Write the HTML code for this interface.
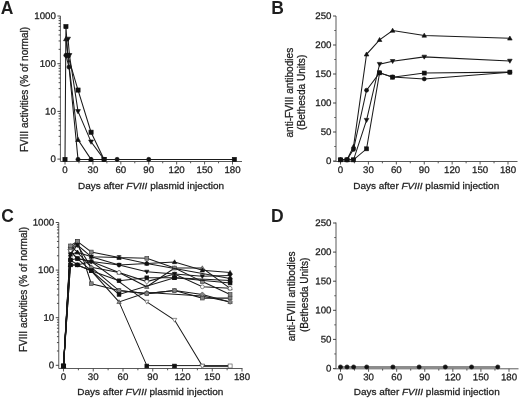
<!DOCTYPE html>
<html><head><meta charset="utf-8"><style>
html,body{margin:0;padding:0;background:#fff;overflow:hidden;width:520px;height:399px;}
svg{display:block;will-change:transform;}
text{font-family:"Liberation Sans",sans-serif;fill:#1e1e1e;stroke:#1e1e1e;stroke-width:0.28px;}
</style></head><body>
<svg width="520" height="399" viewBox="0 0 520 399">
<rect width="520" height="399" fill="#fff"/>
<text x="0.8" y="14.3" font-size="17.5" text-anchor="start" font-weight="bold" style="stroke:none">A</text>
<path d="M60.4 16V161.5" stroke="#5a5a5a" stroke-width="1"/>
<path d="M57.4 16H60.4" stroke="#333" stroke-width="0.9"/>
<text transform="translate(55.9 19) scale(1 0.98) rotate(0.05)" font-size="9.7" text-anchor="end">1000</text>
<path d="M58.6 49.34H60.4" stroke="#333" stroke-width="0.9"/>
<path d="M58.6 40.94H60.4" stroke="#333" stroke-width="0.9"/>
<path d="M58.6 34.98H60.4" stroke="#333" stroke-width="0.9"/>
<path d="M58.6 30.36H60.4" stroke="#333" stroke-width="0.9"/>
<path d="M58.6 26.58H60.4" stroke="#333" stroke-width="0.9"/>
<path d="M58.6 23.39H60.4" stroke="#333" stroke-width="0.9"/>
<path d="M58.6 20.62H60.4" stroke="#333" stroke-width="0.9"/>
<path d="M58.6 18.18H60.4" stroke="#333" stroke-width="0.9"/>
<path d="M57.4 63.7H60.4" stroke="#333" stroke-width="0.9"/>
<text transform="translate(55.9 66.7) scale(1 0.98) rotate(0.05)" font-size="9.7" text-anchor="end">100</text>
<path d="M58.6 97.04H60.4" stroke="#333" stroke-width="0.9"/>
<path d="M58.6 88.64H60.4" stroke="#333" stroke-width="0.9"/>
<path d="M58.6 82.68H60.4" stroke="#333" stroke-width="0.9"/>
<path d="M58.6 78.06H60.4" stroke="#333" stroke-width="0.9"/>
<path d="M58.6 74.28H60.4" stroke="#333" stroke-width="0.9"/>
<path d="M58.6 71.09H60.4" stroke="#333" stroke-width="0.9"/>
<path d="M58.6 68.32H60.4" stroke="#333" stroke-width="0.9"/>
<path d="M58.6 65.88H60.4" stroke="#333" stroke-width="0.9"/>
<path d="M57.4 111.4H60.4" stroke="#333" stroke-width="0.9"/>
<text transform="translate(55.9 114.4) scale(1 0.98) rotate(0.05)" font-size="9.7" text-anchor="end">10</text>
<path d="M58.6 144.74H60.4" stroke="#333" stroke-width="0.9"/>
<path d="M58.6 136.34H60.4" stroke="#333" stroke-width="0.9"/>
<path d="M58.6 130.38H60.4" stroke="#333" stroke-width="0.9"/>
<path d="M58.6 125.76H60.4" stroke="#333" stroke-width="0.9"/>
<path d="M58.6 121.98H60.4" stroke="#333" stroke-width="0.9"/>
<path d="M58.6 118.79H60.4" stroke="#333" stroke-width="0.9"/>
<path d="M58.6 116.02H60.4" stroke="#333" stroke-width="0.9"/>
<path d="M58.6 113.58H60.4" stroke="#333" stroke-width="0.9"/>
<path d="M57.4 159.1H60.4" stroke="#333" stroke-width="0.9"/>
<text transform="translate(55.9 162.1) scale(1 0.98) rotate(0.05)" font-size="9.7" text-anchor="end">0</text>
<path d="M60.4 161.5H242" stroke="#5a5a5a" stroke-width="1"/>
<path d="M65 161.5V164.5" stroke="#444" stroke-width="0.9"/>
<text transform="translate(65 173) scale(1 0.98) rotate(0.05)" font-size="9.7" text-anchor="middle">0</text>
<path d="M78.96 161.5V163.3" stroke="#444" stroke-width="0.9"/>
<path d="M92.92 161.5V164.5" stroke="#444" stroke-width="0.9"/>
<text transform="translate(92.92 173) scale(1 0.98) rotate(0.05)" font-size="9.7" text-anchor="middle">30</text>
<path d="M106.88 161.5V163.3" stroke="#444" stroke-width="0.9"/>
<path d="M120.83 161.5V164.5" stroke="#444" stroke-width="0.9"/>
<text transform="translate(120.83 173) scale(1 0.98) rotate(0.05)" font-size="9.7" text-anchor="middle">60</text>
<path d="M134.79 161.5V163.3" stroke="#444" stroke-width="0.9"/>
<path d="M148.75 161.5V164.5" stroke="#444" stroke-width="0.9"/>
<text transform="translate(148.75 173) scale(1 0.98) rotate(0.05)" font-size="9.7" text-anchor="middle">90</text>
<path d="M162.71 161.5V163.3" stroke="#444" stroke-width="0.9"/>
<path d="M176.67 161.5V164.5" stroke="#444" stroke-width="0.9"/>
<text transform="translate(176.67 173) scale(1 0.98) rotate(0.05)" font-size="9.7" text-anchor="middle">120</text>
<path d="M190.62 161.5V163.3" stroke="#444" stroke-width="0.9"/>
<path d="M204.58 161.5V164.5" stroke="#444" stroke-width="0.9"/>
<text transform="translate(204.58 173) scale(1 0.98) rotate(0.05)" font-size="9.7" text-anchor="middle">150</text>
<path d="M218.54 161.5V163.3" stroke="#444" stroke-width="0.9"/>
<path d="M232.5 161.5V164.5" stroke="#444" stroke-width="0.9"/>
<text transform="translate(232.5 173) scale(1 0.98) rotate(0.05)" font-size="9.7" text-anchor="middle">180</text>
<text transform="translate(151 189.3) scale(1 0.9)" font-size="10" text-anchor="middle">Days after <tspan font-style="italic">FVIII</tspan> plasmid injection</text>
<text x="27.5" y="89.5" font-size="10" text-anchor="middle" font-weight="normal" transform="rotate(-90 27.5 89.5)">FVIII activities (% of normal)</text>
<path d="M65.93 55.3 L69 67.07 L78.03 159.4 L91.06 159.4 L104.08 159.4 L117.11 159.4 L148.75 159.4" fill="none" stroke="#1a1a1a" stroke-width="1.05"/>
<circle cx="65.93" cy="55.3" r="2.1" fill="#111" stroke="#111" stroke-width="0.6"/>
<circle cx="69" cy="67.07" r="2.1" fill="#111" stroke="#111" stroke-width="0.6"/>
<circle cx="78.03" cy="159.4" r="2.1" fill="#111" stroke="#111" stroke-width="0.6"/>
<circle cx="91.06" cy="159.4" r="2.1" fill="#111" stroke="#111" stroke-width="0.6"/>
<circle cx="104.08" cy="159.4" r="2.1" fill="#111" stroke="#111" stroke-width="0.6"/>
<circle cx="117.11" cy="159.4" r="2.1" fill="#111" stroke="#111" stroke-width="0.6"/>
<circle cx="148.75" cy="159.4" r="2.1" fill="#111" stroke="#111" stroke-width="0.6"/>
<path d="M65.93 38.97 L67.79 55.3 L78.03 139.71 L91.06 159.4" fill="none" stroke="#1a1a1a" stroke-width="1.05"/>
<path d="M65.93 36.55L68.35 40.78L63.52 40.78Z" fill="#111" stroke="#111" stroke-width="0.6"/>
<path d="M67.79 52.89L70.21 57.11L65.38 57.11Z" fill="#111" stroke="#111" stroke-width="0.6"/>
<path d="M78.03 137.29L80.44 141.52L75.61 141.52Z" fill="#111" stroke="#111" stroke-width="0.6"/>
<path d="M91.06 156.99L93.47 161.21L88.64 161.21Z" fill="#111" stroke="#111" stroke-width="0.6"/>
<path d="M68.07 38.97 L69.47 55.3 L78.03 111.4 L91.06 141.85 L104.08 159.4" fill="none" stroke="#1a1a1a" stroke-width="1.05"/>
<path d="M68.07 41.38L70.49 37.16L65.66 37.16Z" fill="#111" stroke="#111" stroke-width="0.6"/>
<path d="M69.47 57.72L71.88 53.49L67.05 53.49Z" fill="#111" stroke="#111" stroke-width="0.6"/>
<path d="M78.03 113.82L80.44 109.59L75.61 109.59Z" fill="#111" stroke="#111" stroke-width="0.6"/>
<path d="M91.06 144.26L93.47 140.03L88.64 140.03Z" fill="#111" stroke="#111" stroke-width="0.6"/>
<path d="M104.08 161.81L106.5 157.59L101.67 157.59Z" fill="#111" stroke="#111" stroke-width="0.6"/>
<path d="M65 159.4 L65.93 26.58 L67.79 55.3 L78.03 90.07 L91.06 132.22 L104.08 159.4 L234.36 159.4" fill="none" stroke="#1a1a1a" stroke-width="1.05"/>
<rect x="62.9" y="157.3" width="4.2" height="4.2" fill="#111" stroke="#111" stroke-width="0.6"/>
<rect x="63.83" y="24.48" width="4.2" height="4.2" fill="#111" stroke="#111" stroke-width="0.6"/>
<rect x="65.69" y="53.2" width="4.2" height="4.2" fill="#111" stroke="#111" stroke-width="0.6"/>
<rect x="75.93" y="87.97" width="4.2" height="4.2" fill="#111" stroke="#111" stroke-width="0.6"/>
<rect x="88.96" y="130.12" width="4.2" height="4.2" fill="#111" stroke="#111" stroke-width="0.6"/>
<rect x="101.98" y="157.3" width="4.2" height="4.2" fill="#111" stroke="#111" stroke-width="0.6"/>
<rect x="232.26" y="157.3" width="4.2" height="4.2" fill="#111" stroke="#111" stroke-width="0.6"/>
<text x="271.3" y="14.3" font-size="17.5" text-anchor="start" font-weight="bold" style="stroke:none">B</text>
<path d="M336 16V161.5" stroke="#5a5a5a" stroke-width="1"/>
<path d="M333 161H336" stroke="#333" stroke-width="0.9"/>
<text transform="translate(331.5 164) scale(1 0.98) rotate(0.05)" font-size="9.7" text-anchor="end">0</text>
<path d="M334.2 146.5H336" stroke="#444" stroke-width="0.8"/>
<path d="M333 132H336" stroke="#333" stroke-width="0.9"/>
<text transform="translate(331.5 135) scale(1 0.98) rotate(0.05)" font-size="9.7" text-anchor="end">50</text>
<path d="M334.2 117.5H336" stroke="#444" stroke-width="0.8"/>
<path d="M333 103H336" stroke="#333" stroke-width="0.9"/>
<text transform="translate(331.5 106) scale(1 0.98) rotate(0.05)" font-size="9.7" text-anchor="end">100</text>
<path d="M334.2 88.5H336" stroke="#444" stroke-width="0.8"/>
<path d="M333 74H336" stroke="#333" stroke-width="0.9"/>
<text transform="translate(331.5 77) scale(1 0.98) rotate(0.05)" font-size="9.7" text-anchor="end">150</text>
<path d="M334.2 59.5H336" stroke="#444" stroke-width="0.8"/>
<path d="M333 45H336" stroke="#333" stroke-width="0.9"/>
<text transform="translate(331.5 48) scale(1 0.98) rotate(0.05)" font-size="9.7" text-anchor="end">200</text>
<path d="M334.2 30.5H336" stroke="#444" stroke-width="0.8"/>
<path d="M333 16H336" stroke="#333" stroke-width="0.9"/>
<text transform="translate(331.5 19) scale(1 0.98) rotate(0.05)" font-size="9.7" text-anchor="end">250</text>
<path d="M333.5 161.5H517.5" stroke="#5a5a5a" stroke-width="1"/>
<path d="M340.5 161.5V164.5" stroke="#444" stroke-width="0.9"/>
<text transform="translate(340.5 173) scale(1 0.98) rotate(0.05)" font-size="9.7" text-anchor="middle">0</text>
<path d="M354.46 161.5V163.3" stroke="#444" stroke-width="0.9"/>
<path d="M368.42 161.5V164.5" stroke="#444" stroke-width="0.9"/>
<text transform="translate(368.42 173) scale(1 0.98) rotate(0.05)" font-size="9.7" text-anchor="middle">30</text>
<path d="M382.38 161.5V163.3" stroke="#444" stroke-width="0.9"/>
<path d="M396.33 161.5V164.5" stroke="#444" stroke-width="0.9"/>
<text transform="translate(396.33 173) scale(1 0.98) rotate(0.05)" font-size="9.7" text-anchor="middle">60</text>
<path d="M410.29 161.5V163.3" stroke="#444" stroke-width="0.9"/>
<path d="M424.25 161.5V164.5" stroke="#444" stroke-width="0.9"/>
<text transform="translate(424.25 173) scale(1 0.98) rotate(0.05)" font-size="9.7" text-anchor="middle">90</text>
<path d="M438.21 161.5V163.3" stroke="#444" stroke-width="0.9"/>
<path d="M452.17 161.5V164.5" stroke="#444" stroke-width="0.9"/>
<text transform="translate(452.17 173) scale(1 0.98) rotate(0.05)" font-size="9.7" text-anchor="middle">120</text>
<path d="M466.12 161.5V163.3" stroke="#444" stroke-width="0.9"/>
<path d="M480.08 161.5V164.5" stroke="#444" stroke-width="0.9"/>
<text transform="translate(480.08 173) scale(1 0.98) rotate(0.05)" font-size="9.7" text-anchor="middle">150</text>
<path d="M494.04 161.5V163.3" stroke="#444" stroke-width="0.9"/>
<path d="M508 161.5V164.5" stroke="#444" stroke-width="0.9"/>
<text transform="translate(508 173) scale(1 0.98) rotate(0.05)" font-size="9.7" text-anchor="middle">180</text>
<text transform="translate(426.2 189.3) scale(1 0.9)" font-size="10" text-anchor="middle">Days after <tspan font-style="italic">FVIII</tspan> plasmid injection</text>
<text x="293" y="92.7" font-size="10.1" text-anchor="middle" font-weight="normal" transform="rotate(-90 293 92.7)">anti-FVIII antibodies</text>
<text x="305.5" y="92.3" font-size="10.1" text-anchor="middle" font-weight="normal" transform="rotate(-90 305.5 92.3)">(Bethesda Units)</text>
<path d="M340.5 159.84 L347.01 159.84 L353.53 149.4 L366.56 90.24 L379.58 72.84 L392.61 76.9 L424.25 78.93 L509.86 72.26" fill="none" stroke="#1a1a1a" stroke-width="1.05"/>
<circle cx="340.5" cy="159.84" r="2" fill="#111" stroke="#111" stroke-width="0.6"/>
<circle cx="347.01" cy="159.84" r="2" fill="#111" stroke="#111" stroke-width="0.6"/>
<circle cx="353.53" cy="149.4" r="2" fill="#111" stroke="#111" stroke-width="0.6"/>
<circle cx="366.56" cy="90.24" r="2" fill="#111" stroke="#111" stroke-width="0.6"/>
<circle cx="379.58" cy="72.84" r="2" fill="#111" stroke="#111" stroke-width="0.6"/>
<circle cx="392.61" cy="76.9" r="2" fill="#111" stroke="#111" stroke-width="0.6"/>
<circle cx="424.25" cy="78.93" r="2" fill="#111" stroke="#111" stroke-width="0.6"/>
<circle cx="509.86" cy="72.26" r="2" fill="#111" stroke="#111" stroke-width="0.6"/>
<path d="M340.5 159.84 L347.01 159.84 L353.53 146.5 L366.56 54.28 L379.58 39.78 L392.61 30.5 L424.25 35.43 L509.86 38.33" fill="none" stroke="#1a1a1a" stroke-width="1.05"/>
<path d="M340.5 157.54L342.8 161.56L338.2 161.56Z" fill="#111" stroke="#111" stroke-width="0.6"/>
<path d="M347.01 157.54L349.31 161.56L344.71 161.56Z" fill="#111" stroke="#111" stroke-width="0.6"/>
<path d="M353.53 144.2L355.83 148.22L351.23 148.22Z" fill="#111" stroke="#111" stroke-width="0.6"/>
<path d="M366.56 51.98L368.86 56.01L364.26 56.01Z" fill="#111" stroke="#111" stroke-width="0.6"/>
<path d="M379.58 37.48L381.88 41.51L377.28 41.51Z" fill="#111" stroke="#111" stroke-width="0.6"/>
<path d="M392.61 28.2L394.91 32.23L390.31 32.23Z" fill="#111" stroke="#111" stroke-width="0.6"/>
<path d="M424.25 33.13L426.55 37.15L421.95 37.15Z" fill="#111" stroke="#111" stroke-width="0.6"/>
<path d="M509.86 36.03L512.16 40.05L507.56 40.05Z" fill="#111" stroke="#111" stroke-width="0.6"/>
<path d="M340.5 159.84 L347.01 159.84 L353.53 159.84 L366.56 120.11 L379.58 64.14 L392.61 61.24 L424.25 56.89 L509.86 60.95" fill="none" stroke="#1a1a1a" stroke-width="1.05"/>
<path d="M340.5 162.14L342.8 158.12L338.2 158.12Z" fill="#111" stroke="#111" stroke-width="0.6"/>
<path d="M347.01 162.14L349.31 158.12L344.71 158.12Z" fill="#111" stroke="#111" stroke-width="0.6"/>
<path d="M353.53 162.14L355.83 158.12L351.23 158.12Z" fill="#111" stroke="#111" stroke-width="0.6"/>
<path d="M366.56 122.41L368.86 118.39L364.26 118.39Z" fill="#111" stroke="#111" stroke-width="0.6"/>
<path d="M379.58 66.44L381.88 62.41L377.28 62.41Z" fill="#111" stroke="#111" stroke-width="0.6"/>
<path d="M392.61 63.54L394.91 59.51L390.31 59.51Z" fill="#111" stroke="#111" stroke-width="0.6"/>
<path d="M424.25 59.19L426.55 55.16L421.95 55.16Z" fill="#111" stroke="#111" stroke-width="0.6"/>
<path d="M509.86 63.25L512.16 59.22L507.56 59.22Z" fill="#111" stroke="#111" stroke-width="0.6"/>
<path d="M340.5 159.84 L347.01 159.84 L353.53 159.84 L366.56 148.82 L379.58 72.84 L392.61 77.19 L424.25 73.07 L509.86 72.14" fill="none" stroke="#1a1a1a" stroke-width="1.05"/>
<rect x="338.5" y="157.84" width="4" height="4" fill="#111" stroke="#111" stroke-width="0.6"/>
<rect x="345.01" y="157.84" width="4" height="4" fill="#111" stroke="#111" stroke-width="0.6"/>
<rect x="351.53" y="157.84" width="4" height="4" fill="#111" stroke="#111" stroke-width="0.6"/>
<rect x="364.56" y="146.82" width="4" height="4" fill="#111" stroke="#111" stroke-width="0.6"/>
<rect x="377.58" y="70.84" width="4" height="4" fill="#111" stroke="#111" stroke-width="0.6"/>
<rect x="390.61" y="75.19" width="4" height="4" fill="#111" stroke="#111" stroke-width="0.6"/>
<rect x="422.25" y="71.07" width="4" height="4" fill="#111" stroke="#111" stroke-width="0.6"/>
<rect x="507.86" y="70.14" width="4" height="4" fill="#111" stroke="#111" stroke-width="0.6"/>
<text x="1.2" y="222.4" font-size="17.5" text-anchor="start" font-weight="bold" style="stroke:none">C</text>
<path d="M58.75 222.5V368.5" stroke="#5a5a5a" stroke-width="1"/>
<path d="M55.75 222.5H58.75" stroke="#333" stroke-width="0.9"/>
<text transform="translate(54.25 225.5) scale(1 0.98) rotate(0.05)" font-size="9.7" text-anchor="end">1000</text>
<path d="M56.95 255.77H58.75" stroke="#333" stroke-width="0.9"/>
<path d="M56.95 247.39H58.75" stroke="#333" stroke-width="0.9"/>
<path d="M56.95 241.44H58.75" stroke="#333" stroke-width="0.9"/>
<path d="M56.95 236.83H58.75" stroke="#333" stroke-width="0.9"/>
<path d="M56.95 233.06H58.75" stroke="#333" stroke-width="0.9"/>
<path d="M56.95 229.87H58.75" stroke="#333" stroke-width="0.9"/>
<path d="M56.95 227.11H58.75" stroke="#333" stroke-width="0.9"/>
<path d="M56.95 224.68H58.75" stroke="#333" stroke-width="0.9"/>
<path d="M55.75 270.1H58.75" stroke="#333" stroke-width="0.9"/>
<text transform="translate(54.25 273.1) scale(1 0.98) rotate(0.05)" font-size="9.7" text-anchor="end">100</text>
<path d="M56.95 303.37H58.75" stroke="#333" stroke-width="0.9"/>
<path d="M56.95 294.99H58.75" stroke="#333" stroke-width="0.9"/>
<path d="M56.95 289.04H58.75" stroke="#333" stroke-width="0.9"/>
<path d="M56.95 284.43H58.75" stroke="#333" stroke-width="0.9"/>
<path d="M56.95 280.66H58.75" stroke="#333" stroke-width="0.9"/>
<path d="M56.95 277.47H58.75" stroke="#333" stroke-width="0.9"/>
<path d="M56.95 274.71H58.75" stroke="#333" stroke-width="0.9"/>
<path d="M56.95 272.28H58.75" stroke="#333" stroke-width="0.9"/>
<path d="M55.75 317.7H58.75" stroke="#333" stroke-width="0.9"/>
<text transform="translate(54.25 320.7) scale(1 0.98) rotate(0.05)" font-size="9.7" text-anchor="end">10</text>
<path d="M56.95 350.97H58.75" stroke="#333" stroke-width="0.9"/>
<path d="M56.95 342.59H58.75" stroke="#333" stroke-width="0.9"/>
<path d="M56.95 336.64H58.75" stroke="#333" stroke-width="0.9"/>
<path d="M56.95 332.03H58.75" stroke="#333" stroke-width="0.9"/>
<path d="M56.95 328.26H58.75" stroke="#333" stroke-width="0.9"/>
<path d="M56.95 325.07H58.75" stroke="#333" stroke-width="0.9"/>
<path d="M56.95 322.31H58.75" stroke="#333" stroke-width="0.9"/>
<path d="M56.95 319.88H58.75" stroke="#333" stroke-width="0.9"/>
<path d="M55.75 365.3H58.75" stroke="#333" stroke-width="0.9"/>
<text transform="translate(54.25 368.3) scale(1 0.98) rotate(0.05)" font-size="9.7" text-anchor="end">0</text>
<path d="M58.75 368.5H242.5" stroke="#5a5a5a" stroke-width="1"/>
<path d="M63.5 368.5V371.5" stroke="#444" stroke-width="0.9"/>
<text transform="translate(63.5 380) scale(1 0.98) rotate(0.05)" font-size="9.7" text-anchor="middle">0</text>
<path d="M78.38 368.5V370.3" stroke="#444" stroke-width="0.9"/>
<path d="M93.25 368.5V371.5" stroke="#444" stroke-width="0.9"/>
<text transform="translate(93.25 380) scale(1 0.98) rotate(0.05)" font-size="9.7" text-anchor="middle">30</text>
<path d="M108.12 368.5V370.3" stroke="#444" stroke-width="0.9"/>
<path d="M123 368.5V371.5" stroke="#444" stroke-width="0.9"/>
<text transform="translate(123 380) scale(1 0.98) rotate(0.05)" font-size="9.7" text-anchor="middle">60</text>
<path d="M137.88 368.5V370.3" stroke="#444" stroke-width="0.9"/>
<path d="M152.75 368.5V371.5" stroke="#444" stroke-width="0.9"/>
<text transform="translate(152.75 380) scale(1 0.98) rotate(0.05)" font-size="9.7" text-anchor="middle">90</text>
<path d="M167.62 368.5V370.3" stroke="#444" stroke-width="0.9"/>
<path d="M182.5 368.5V371.5" stroke="#444" stroke-width="0.9"/>
<text transform="translate(182.5 380) scale(1 0.98) rotate(0.05)" font-size="9.7" text-anchor="middle">120</text>
<path d="M197.38 368.5V370.3" stroke="#444" stroke-width="0.9"/>
<path d="M212.25 368.5V371.5" stroke="#444" stroke-width="0.9"/>
<text transform="translate(212.25 380) scale(1 0.98) rotate(0.05)" font-size="9.7" text-anchor="middle">150</text>
<path d="M227.12 368.5V370.3" stroke="#444" stroke-width="0.9"/>
<path d="M242 368.5V371.5" stroke="#444" stroke-width="0.9"/>
<text transform="translate(242 380) scale(1 0.98) rotate(0.05)" font-size="9.7" text-anchor="middle">180</text>
<text transform="translate(150.3 395.3) scale(1 0.9)" font-size="10" text-anchor="middle">Days after <tspan font-style="italic">FVIII</tspan> plasmid injection</text>
<text x="27.3" y="289.5" font-size="10" text-anchor="middle" font-weight="normal" transform="rotate(-90 27.3 289.5)">FVIII activities (% of normal)</text>
<path d="M119.03 301.9L146.8 365.6H230.1" fill="none" stroke="#1a1a1a" stroke-width="1"/>
<path d="M202.33 366.6H230.1" stroke="#1a1a1a" stroke-width="0.9"/>
<path d="M63.5 366 L70.44 264.9 L77.38 264.9 L91.27 270.8 L119.03 301.9 L146.8 292.5 L202.33 296 L230.1 301.9" fill="none" stroke="#1a1a1a" stroke-width="1.05"/>
<path d="M63.5 363.81L65.69 367.64L61.31 367.64Z" fill="#858585" stroke="#3a3a3a" stroke-width="0.6"/>
<path d="M70.44 262.71L72.63 266.54L68.26 266.54Z" fill="#858585" stroke="#3a3a3a" stroke-width="0.6"/>
<path d="M77.38 262.71L79.57 266.54L75.2 266.54Z" fill="#858585" stroke="#3a3a3a" stroke-width="0.6"/>
<path d="M91.27 268.62L93.45 272.44L89.08 272.44Z" fill="#858585" stroke="#3a3a3a" stroke-width="0.6"/>
<path d="M119.03 299.71L121.22 303.54L116.85 303.54Z" fill="#858585" stroke="#3a3a3a" stroke-width="0.6"/>
<path d="M146.8 290.31L148.99 294.14L144.62 294.14Z" fill="#858585" stroke="#3a3a3a" stroke-width="0.6"/>
<path d="M202.33 293.81L204.52 297.64L200.15 297.64Z" fill="#858585" stroke="#3a3a3a" stroke-width="0.6"/>
<path d="M230.1 299.71L232.28 303.54L227.91 303.54Z" fill="#858585" stroke="#3a3a3a" stroke-width="0.6"/>
<path d="M63.5 366 L70.44 245.9 L77.38 252.2 L91.27 267.3 L119.03 272.5 L146.8 286.8 L174.57 268 L202.33 268 L230.1 288.3" fill="none" stroke="#1a1a1a" stroke-width="1.05"/>
<path d="M63.5 363.81L65.69 367.64L61.31 367.64Z" fill="#858585" stroke="#3a3a3a" stroke-width="0.6"/>
<path d="M70.44 243.72L72.63 247.54L68.26 247.54Z" fill="#858585" stroke="#3a3a3a" stroke-width="0.6"/>
<path d="M77.38 250.01L79.57 253.84L75.2 253.84Z" fill="#858585" stroke="#3a3a3a" stroke-width="0.6"/>
<path d="M91.27 265.12L93.45 268.94L89.08 268.94Z" fill="#858585" stroke="#3a3a3a" stroke-width="0.6"/>
<path d="M119.03 270.31L121.22 274.14L116.85 274.14Z" fill="#858585" stroke="#3a3a3a" stroke-width="0.6"/>
<path d="M146.8 284.62L148.99 288.44L144.62 288.44Z" fill="#858585" stroke="#3a3a3a" stroke-width="0.6"/>
<path d="M174.57 265.81L176.75 269.64L172.38 269.64Z" fill="#858585" stroke="#3a3a3a" stroke-width="0.6"/>
<path d="M202.33 265.81L204.52 269.64L200.15 269.64Z" fill="#858585" stroke="#3a3a3a" stroke-width="0.6"/>
<path d="M230.1 286.12L232.28 289.94L227.91 289.94Z" fill="#858585" stroke="#3a3a3a" stroke-width="0.6"/>
<path d="M63.5 366 L70.44 249.5 L77.38 241.4 L91.27 252 L119.03 257.5 L146.8 258.3 L174.57 268 L202.33 281.6 L230.1 294.4" fill="none" stroke="#1a1a1a" stroke-width="1.05"/>
<rect x="61.6" y="364.1" width="3.8" height="3.8" fill="#858585" stroke="#3a3a3a" stroke-width="0.6"/>
<rect x="68.54" y="247.6" width="3.8" height="3.8" fill="#858585" stroke="#3a3a3a" stroke-width="0.6"/>
<rect x="75.48" y="239.5" width="3.8" height="3.8" fill="#858585" stroke="#3a3a3a" stroke-width="0.6"/>
<rect x="89.37" y="250.1" width="3.8" height="3.8" fill="#858585" stroke="#3a3a3a" stroke-width="0.6"/>
<rect x="117.13" y="255.6" width="3.8" height="3.8" fill="#858585" stroke="#3a3a3a" stroke-width="0.6"/>
<rect x="144.9" y="256.4" width="3.8" height="3.8" fill="#858585" stroke="#3a3a3a" stroke-width="0.6"/>
<rect x="172.67" y="266.1" width="3.8" height="3.8" fill="#858585" stroke="#3a3a3a" stroke-width="0.6"/>
<rect x="200.43" y="279.7" width="3.8" height="3.8" fill="#858585" stroke="#3a3a3a" stroke-width="0.6"/>
<rect x="228.2" y="292.5" width="3.8" height="3.8" fill="#858585" stroke="#3a3a3a" stroke-width="0.6"/>
<path d="M63.5 366 L70.44 245.9 L77.38 241.4 L91.27 283.7 L119.03 290.6 L146.8 293.6 L174.57 290.6 L202.33 298.1 L230.1 298.1" fill="none" stroke="#1a1a1a" stroke-width="1.05"/>
<rect x="61.6" y="364.1" width="3.8" height="3.8" fill="#858585" stroke="#3a3a3a" stroke-width="0.6"/>
<rect x="68.54" y="244" width="3.8" height="3.8" fill="#858585" stroke="#3a3a3a" stroke-width="0.6"/>
<rect x="75.48" y="239.5" width="3.8" height="3.8" fill="#858585" stroke="#3a3a3a" stroke-width="0.6"/>
<rect x="89.37" y="281.8" width="3.8" height="3.8" fill="#858585" stroke="#3a3a3a" stroke-width="0.6"/>
<rect x="117.13" y="288.7" width="3.8" height="3.8" fill="#858585" stroke="#3a3a3a" stroke-width="0.6"/>
<rect x="144.9" y="291.7" width="3.8" height="3.8" fill="#858585" stroke="#3a3a3a" stroke-width="0.6"/>
<rect x="172.67" y="288.7" width="3.8" height="3.8" fill="#858585" stroke="#3a3a3a" stroke-width="0.6"/>
<rect x="200.43" y="296.2" width="3.8" height="3.8" fill="#858585" stroke="#3a3a3a" stroke-width="0.6"/>
<rect x="228.2" y="296.2" width="3.8" height="3.8" fill="#858585" stroke="#3a3a3a" stroke-width="0.6"/>
<path d="M63.5 366 L70.44 249.5 L77.38 245 L91.27 267.3 L119.03 290.6 L146.8 293.6 L174.57 290.6 L202.33 294.4 L230.1 301.9" fill="none" stroke="#1a1a1a" stroke-width="1.05"/>
<path d="M63.5 363.53L65.97 366L63.5 368.47L61.03 366Z" fill="#858585" stroke="#3a3a3a" stroke-width="0.6"/>
<path d="M70.44 247.03L72.91 249.5L70.44 251.97L67.97 249.5Z" fill="#858585" stroke="#3a3a3a" stroke-width="0.6"/>
<path d="M77.38 242.53L79.85 245L77.38 247.47L74.91 245Z" fill="#858585" stroke="#3a3a3a" stroke-width="0.6"/>
<path d="M91.27 264.83L93.74 267.3L91.27 269.77L88.8 267.3Z" fill="#858585" stroke="#3a3a3a" stroke-width="0.6"/>
<path d="M119.03 288.13L121.5 290.6L119.03 293.07L116.56 290.6Z" fill="#858585" stroke="#3a3a3a" stroke-width="0.6"/>
<path d="M146.8 291.13L149.27 293.6L146.8 296.07L144.33 293.6Z" fill="#858585" stroke="#3a3a3a" stroke-width="0.6"/>
<path d="M174.57 288.13L177.04 290.6L174.57 293.07L172.1 290.6Z" fill="#858585" stroke="#3a3a3a" stroke-width="0.6"/>
<path d="M202.33 291.93L204.8 294.4L202.33 296.87L199.86 294.4Z" fill="#858585" stroke="#3a3a3a" stroke-width="0.6"/>
<path d="M230.1 299.43L232.57 301.9L230.1 304.37L227.63 301.9Z" fill="#858585" stroke="#3a3a3a" stroke-width="0.6"/>
<path d="M63.5 366 L70.44 251.3 L77.38 258.6 L91.27 261.5 L119.03 272.5 L146.8 281.6 L174.57 274 L202.33 286.8 L230.1 288.3" fill="none" stroke="#1a1a1a" stroke-width="1.05"/>
<circle cx="63.5" cy="366" r="1.9" fill="#fff" stroke="#444" stroke-width="0.6"/>
<circle cx="70.44" cy="251.3" r="1.9" fill="#fff" stroke="#444" stroke-width="0.6"/>
<circle cx="77.38" cy="258.6" r="1.9" fill="#fff" stroke="#444" stroke-width="0.6"/>
<circle cx="91.27" cy="261.5" r="1.9" fill="#fff" stroke="#444" stroke-width="0.6"/>
<circle cx="119.03" cy="272.5" r="1.9" fill="#fff" stroke="#444" stroke-width="0.6"/>
<circle cx="146.8" cy="281.6" r="1.9" fill="#fff" stroke="#444" stroke-width="0.6"/>
<circle cx="174.57" cy="274" r="1.9" fill="#fff" stroke="#444" stroke-width="0.6"/>
<circle cx="202.33" cy="286.8" r="1.9" fill="#fff" stroke="#444" stroke-width="0.6"/>
<circle cx="230.1" cy="288.3" r="1.9" fill="#fff" stroke="#444" stroke-width="0.6"/>
<path d="M63.5 366 L70.44 251.3 L77.38 258.6 L91.27 261.5 L146.8 301.9 L174.57 320 L202.33 366" fill="none" stroke="#1a1a1a" stroke-width="1.05"/>
<path d="M63.5 368.19L65.69 364.36L61.31 364.36Z" fill="#fff" stroke="#444" stroke-width="0.6"/>
<path d="M70.44 253.49L72.63 249.66L68.26 249.66Z" fill="#fff" stroke="#444" stroke-width="0.6"/>
<path d="M77.38 260.79L79.57 256.96L75.2 256.96Z" fill="#fff" stroke="#444" stroke-width="0.6"/>
<path d="M91.27 263.69L93.45 259.86L89.08 259.86Z" fill="#fff" stroke="#444" stroke-width="0.6"/>
<path d="M146.8 304.08L148.99 300.26L144.62 300.26Z" fill="#fff" stroke="#444" stroke-width="0.6"/>
<path d="M174.57 322.19L176.75 318.36L172.38 318.36Z" fill="#fff" stroke="#444" stroke-width="0.6"/>
<path d="M202.33 368.19L204.52 364.36L200.15 364.36Z" fill="#fff" stroke="#444" stroke-width="0.6"/>
<path d="M63.5 366 L70.44 259.9 L77.38 264.9 L91.27 261.5 L119.03 265 L146.8 263.5 L230.1 278.6" fill="none" stroke="#1a1a1a" stroke-width="1.05"/>
<circle cx="63.5" cy="366" r="1.9" fill="#111" stroke="#111" stroke-width="0.6"/>
<circle cx="70.44" cy="259.9" r="1.9" fill="#111" stroke="#111" stroke-width="0.6"/>
<circle cx="77.38" cy="264.9" r="1.9" fill="#111" stroke="#111" stroke-width="0.6"/>
<circle cx="91.27" cy="261.5" r="1.9" fill="#111" stroke="#111" stroke-width="0.6"/>
<circle cx="119.03" cy="265" r="1.9" fill="#111" stroke="#111" stroke-width="0.6"/>
<circle cx="146.8" cy="263.5" r="1.9" fill="#111" stroke="#111" stroke-width="0.6"/>
<circle cx="230.1" cy="278.6" r="1.9" fill="#111" stroke="#111" stroke-width="0.6"/>
<path d="M63.5 366 L70.44 259.9 L77.38 258.6 L91.27 270.8 L119.03 280.8 L146.8 277.8 L174.57 277.8 L230.1 283" fill="none" stroke="#1a1a1a" stroke-width="1.05"/>
<rect x="61.6" y="364.1" width="3.8" height="3.8" fill="#111" stroke="#111" stroke-width="0.6"/>
<rect x="68.54" y="258" width="3.8" height="3.8" fill="#111" stroke="#111" stroke-width="0.6"/>
<rect x="75.48" y="256.7" width="3.8" height="3.8" fill="#111" stroke="#111" stroke-width="0.6"/>
<rect x="89.37" y="268.9" width="3.8" height="3.8" fill="#111" stroke="#111" stroke-width="0.6"/>
<rect x="117.13" y="278.9" width="3.8" height="3.8" fill="#111" stroke="#111" stroke-width="0.6"/>
<rect x="144.9" y="275.9" width="3.8" height="3.8" fill="#111" stroke="#111" stroke-width="0.6"/>
<rect x="172.67" y="275.9" width="3.8" height="3.8" fill="#111" stroke="#111" stroke-width="0.6"/>
<rect x="228.2" y="281.1" width="3.8" height="3.8" fill="#111" stroke="#111" stroke-width="0.6"/>
<path d="M63.5 366 L70.44 264.9 L77.38 264.9 L91.27 270.8 L119.03 294.4 L174.57 277.8 L230.1 280.5" fill="none" stroke="#1a1a1a" stroke-width="1.05"/>
<rect x="61.6" y="364.1" width="3.8" height="3.8" fill="#111" stroke="#111" stroke-width="0.6"/>
<rect x="68.54" y="263" width="3.8" height="3.8" fill="#111" stroke="#111" stroke-width="0.6"/>
<rect x="75.48" y="263" width="3.8" height="3.8" fill="#111" stroke="#111" stroke-width="0.6"/>
<rect x="89.37" y="268.9" width="3.8" height="3.8" fill="#111" stroke="#111" stroke-width="0.6"/>
<rect x="117.13" y="292.5" width="3.8" height="3.8" fill="#111" stroke="#111" stroke-width="0.6"/>
<rect x="172.67" y="275.9" width="3.8" height="3.8" fill="#111" stroke="#111" stroke-width="0.6"/>
<rect x="228.2" y="278.6" width="3.8" height="3.8" fill="#111" stroke="#111" stroke-width="0.6"/>
<path d="M63.5 366 L70.44 254.5 L77.38 245 L91.27 256.7 L119.03 265 L146.8 271.8 L174.57 274 L202.33 276.3 L230.1 275.6" fill="none" stroke="#1a1a1a" stroke-width="1.05"/>
<path d="M63.5 368.19L65.69 364.36L61.31 364.36Z" fill="#111" stroke="#111" stroke-width="0.6"/>
<path d="M70.44 256.69L72.63 252.86L68.26 252.86Z" fill="#111" stroke="#111" stroke-width="0.6"/>
<path d="M77.38 247.19L79.57 243.36L75.2 243.36Z" fill="#111" stroke="#111" stroke-width="0.6"/>
<path d="M91.27 258.88L93.45 255.06L89.08 255.06Z" fill="#111" stroke="#111" stroke-width="0.6"/>
<path d="M119.03 267.19L121.22 263.36L116.85 263.36Z" fill="#111" stroke="#111" stroke-width="0.6"/>
<path d="M146.8 273.99L148.99 270.16L144.62 270.16Z" fill="#111" stroke="#111" stroke-width="0.6"/>
<path d="M174.57 276.19L176.75 272.36L172.38 272.36Z" fill="#111" stroke="#111" stroke-width="0.6"/>
<path d="M202.33 278.49L204.52 274.66L200.15 274.66Z" fill="#111" stroke="#111" stroke-width="0.6"/>
<path d="M230.1 277.79L232.28 273.96L227.91 273.96Z" fill="#111" stroke="#111" stroke-width="0.6"/>
<path d="M63.5 366 L70.44 254.5 L77.38 252.2 L91.27 256.7 L119.03 257.5 L146.8 263.5 L174.57 262 L202.33 270.3 L230.1 272.6" fill="none" stroke="#1a1a1a" stroke-width="1.05"/>
<path d="M63.5 363.81L65.69 367.64L61.31 367.64Z" fill="#111" stroke="#111" stroke-width="0.6"/>
<path d="M70.44 252.31L72.63 256.14L68.26 256.14Z" fill="#111" stroke="#111" stroke-width="0.6"/>
<path d="M77.38 250.01L79.57 253.84L75.2 253.84Z" fill="#111" stroke="#111" stroke-width="0.6"/>
<path d="M91.27 254.51L93.45 258.34L89.08 258.34Z" fill="#111" stroke="#111" stroke-width="0.6"/>
<path d="M119.03 255.31L121.22 259.14L116.85 259.14Z" fill="#111" stroke="#111" stroke-width="0.6"/>
<path d="M146.8 261.31L148.99 265.14L144.62 265.14Z" fill="#111" stroke="#111" stroke-width="0.6"/>
<path d="M174.57 259.81L176.75 263.64L172.38 263.64Z" fill="#111" stroke="#111" stroke-width="0.6"/>
<path d="M202.33 268.12L204.52 271.94L200.15 271.94Z" fill="#111" stroke="#111" stroke-width="0.6"/>
<path d="M230.1 270.42L232.28 274.24L227.91 274.24Z" fill="#111" stroke="#111" stroke-width="0.6"/>
<rect x="144.9" y="364.1" width="3.8" height="3.8" fill="#111" stroke="#111" stroke-width="0.6"/>
<rect x="172.67" y="364.1" width="3.8" height="3.8" fill="#111" stroke="#111" stroke-width="0.6"/>
<path d="M202.33 368.42L204.75 364.19L199.92 364.19Z" fill="#fff" stroke="#444" stroke-width="0.6"/>
<rect x="228.1" y="364" width="4" height="4" fill="#fff" stroke="#444" stroke-width="0.6"/>
<text x="271" y="222.4" font-size="17.5" text-anchor="start" font-weight="bold" style="stroke:none">D</text>
<path d="M336 222.5V368.8" stroke="#5a5a5a" stroke-width="1"/>
<path d="M333 368.5H336" stroke="#333" stroke-width="0.9"/>
<text transform="translate(331.5 371.5) scale(1 0.98) rotate(0.05)" font-size="9.7" text-anchor="end">0</text>
<path d="M334.2 353.95H336" stroke="#444" stroke-width="0.8"/>
<path d="M333 339.4H336" stroke="#333" stroke-width="0.9"/>
<text transform="translate(331.5 342.4) scale(1 0.98) rotate(0.05)" font-size="9.7" text-anchor="end">50</text>
<path d="M334.2 324.85H336" stroke="#444" stroke-width="0.8"/>
<path d="M333 310.3H336" stroke="#333" stroke-width="0.9"/>
<text transform="translate(331.5 313.3) scale(1 0.98) rotate(0.05)" font-size="9.7" text-anchor="end">100</text>
<path d="M334.2 295.75H336" stroke="#444" stroke-width="0.8"/>
<path d="M333 281.2H336" stroke="#333" stroke-width="0.9"/>
<text transform="translate(331.5 284.2) scale(1 0.98) rotate(0.05)" font-size="9.7" text-anchor="end">150</text>
<path d="M334.2 266.65H336" stroke="#444" stroke-width="0.8"/>
<path d="M333 252.1H336" stroke="#333" stroke-width="0.9"/>
<text transform="translate(331.5 255.1) scale(1 0.98) rotate(0.05)" font-size="9.7" text-anchor="end">200</text>
<path d="M334.2 237.55H336" stroke="#444" stroke-width="0.8"/>
<path d="M333 223H336" stroke="#333" stroke-width="0.9"/>
<text transform="translate(331.5 226) scale(1 0.98) rotate(0.05)" font-size="9.7" text-anchor="end">250</text>
<path d="M333.5 368.8H518.5" stroke="#5a5a5a" stroke-width="1"/>
<path d="M340.5 368.8V371.8" stroke="#444" stroke-width="0.9"/>
<text transform="translate(340.5 380.3) scale(1 0.98) rotate(0.05)" font-size="9.7" text-anchor="middle">0</text>
<path d="M354.54 368.8V370.6" stroke="#444" stroke-width="0.9"/>
<path d="M368.58 368.8V371.8" stroke="#444" stroke-width="0.9"/>
<text transform="translate(368.58 380.3) scale(1 0.98) rotate(0.05)" font-size="9.7" text-anchor="middle">30</text>
<path d="M382.62 368.8V370.6" stroke="#444" stroke-width="0.9"/>
<path d="M396.67 368.8V371.8" stroke="#444" stroke-width="0.9"/>
<text transform="translate(396.67 380.3) scale(1 0.98) rotate(0.05)" font-size="9.7" text-anchor="middle">60</text>
<path d="M410.71 368.8V370.6" stroke="#444" stroke-width="0.9"/>
<path d="M424.75 368.8V371.8" stroke="#444" stroke-width="0.9"/>
<text transform="translate(424.75 380.3) scale(1 0.98) rotate(0.05)" font-size="9.7" text-anchor="middle">90</text>
<path d="M438.79 368.8V370.6" stroke="#444" stroke-width="0.9"/>
<path d="M452.83 368.8V371.8" stroke="#444" stroke-width="0.9"/>
<text transform="translate(452.83 380.3) scale(1 0.98) rotate(0.05)" font-size="9.7" text-anchor="middle">120</text>
<path d="M466.88 368.8V370.6" stroke="#444" stroke-width="0.9"/>
<path d="M480.92 368.8V371.8" stroke="#444" stroke-width="0.9"/>
<text transform="translate(480.92 380.3) scale(1 0.98) rotate(0.05)" font-size="9.7" text-anchor="middle">150</text>
<path d="M494.96 368.8V370.6" stroke="#444" stroke-width="0.9"/>
<path d="M509 368.8V371.8" stroke="#444" stroke-width="0.9"/>
<text transform="translate(509 380.3) scale(1 0.98) rotate(0.05)" font-size="9.7" text-anchor="middle">180</text>
<text transform="translate(426.7 395.4) scale(1 0.9)" font-size="10" text-anchor="middle">Days after <tspan font-style="italic">FVIII</tspan> plasmid injection</text>
<text x="295.2" y="296.4" font-size="10.1" text-anchor="middle" font-weight="normal" transform="rotate(-90 295.2 296.4)">anti-FVIII antibodies</text>
<text x="307.6" y="294.8" font-size="10" text-anchor="middle" font-weight="normal" transform="rotate(-90 307.6 294.8)">(Bethesda Units)</text>
<path d="M340.5 367 L347.05 367 L353.61 367 L366.71 367 L392.92 367 L419.13 367 L445.34 367 L471.56 367 L497.77 367" fill="none" stroke="#1a1a1a" stroke-width="1.05"/>
<circle cx="340.5" cy="367" r="2.1" fill="#111" stroke="#111" stroke-width="0.6"/>
<circle cx="347.05" cy="367" r="2.1" fill="#111" stroke="#111" stroke-width="0.6"/>
<circle cx="353.61" cy="367" r="2.1" fill="#111" stroke="#111" stroke-width="0.6"/>
<circle cx="366.71" cy="367" r="2.1" fill="#111" stroke="#111" stroke-width="0.6"/>
<circle cx="392.92" cy="367" r="2.1" fill="#111" stroke="#111" stroke-width="0.6"/>
<circle cx="419.13" cy="367" r="2.1" fill="#111" stroke="#111" stroke-width="0.6"/>
<circle cx="445.34" cy="367" r="2.1" fill="#111" stroke="#111" stroke-width="0.6"/>
<circle cx="471.56" cy="367" r="2.1" fill="#111" stroke="#111" stroke-width="0.6"/>
<circle cx="497.77" cy="367" r="2.1" fill="#111" stroke="#111" stroke-width="0.6"/>
</svg>
</body></html>
